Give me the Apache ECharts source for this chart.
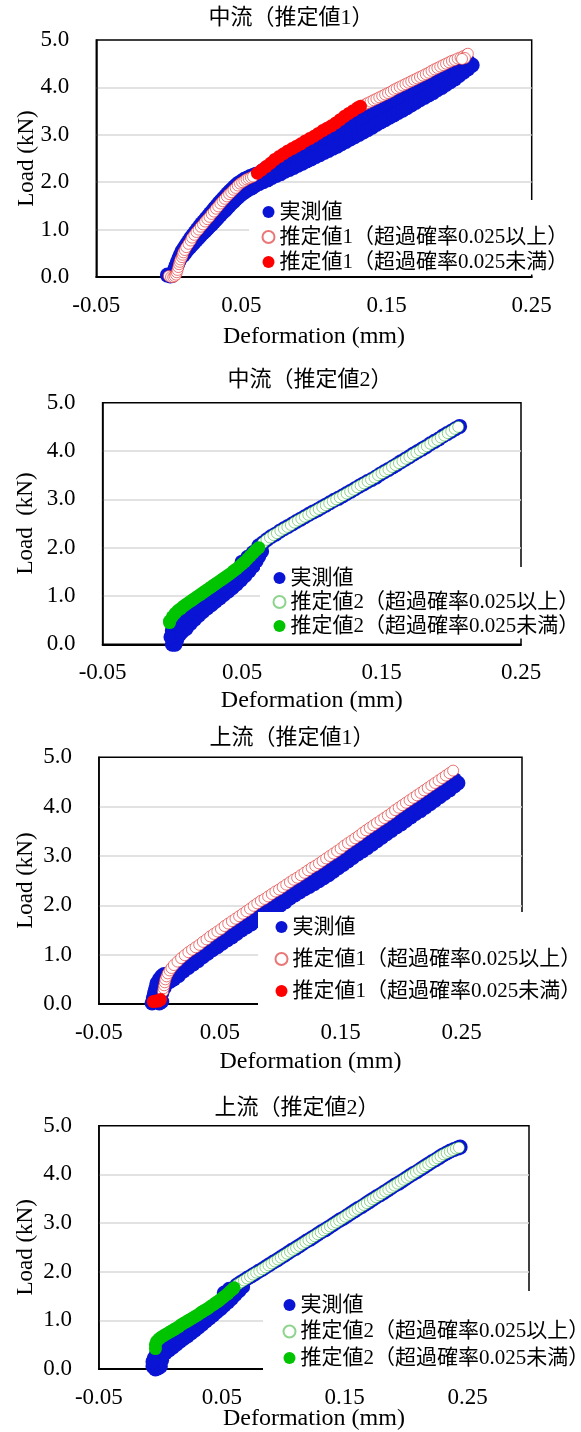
<!DOCTYPE html>
<html>
<head>
<meta charset="utf-8">
<script src="https://cdn.jsdelivr.net/npm/echarts@6/dist/echarts.min.js"></script>
<style>
html,body{margin:0;padding:0;background:#fff;}
#c{width:581px;height:1432px;}
</style>
</head>
<body>
<div id="c"></div>
<script>
// ---------- categories / labels ----------
const chartTitles = ['中流（推定値1）', '中流（推定値2）', '上流（推定値1）', '上流（推定値2）'];
const measuredName = '実測値';
const est1Names = ['推定値1（超過確率0.025以上）', '推定値1（超過確率0.025未満）'];
const est2Names = ['推定値2（超過確率0.025以上）', '推定値2（超過確率0.025未満）'];
const xAxisName = 'Deformation (mm)';
const yAxisNames = ['Load (kN)', 'Load  (kN)', 'Load (kN)', 'Load (kN)'];
const xTickLabels = ['-0.05', '0.05', '0.15', '0.25'];
const yTickLabels = ['0.0', '1.0', '2.0', '3.0', '4.0', '5.0'];
const xMin = -0.05;
const xMaxes = [0.25, 0.25, 0.30, 0.30];

// ---------- chart 1 : 中流（推定値1） ----------
const meas1 = [
[-0.001,0.04],[0.001,0.02],[0.003,0.08],[0.004,0.16],[0.005,0.24],[0.006,0.32],[0.007,0.40],[0.008,0.47],[0.009,0.54],[0.0105,0.61],[0.012,0.68],[0.0135,0.75],[0.015,0.82],[0.0165,0.88],[0.018,0.94],[0.0195,1.00],[0.021,1.06],[0.0225,1.12],[0.024,1.17],[0.0255,1.23],[0.027,1.28],[0.0285,1.34],[0.030,1.39],[0.0315,1.45],[0.033,1.50],[0.0345,1.56],[0.036,1.61],[0.0375,1.66],[0.039,1.71],[0.0405,1.76],[0.042,1.81],[0.0435,1.85],[0.045,1.90],[0.0465,1.94],[0.048,1.98],[0.050,2.02],[0.052,2.06],[0.054,2.09],[0.056,2.12],[0.058,2.14],[0.060,2.17],
[0.062,2.18],[0.065,2.25],[0.068,2.31],[0.071,2.38],[0.074,2.44],[0.077,2.50],[0.080,2.56],[0.083,2.61],[0.086,2.66],[0.089,2.71],[0.092,2.76],[0.095,2.81],[0.098,2.86],[0.101,2.92],[0.104,2.97],[0.107,3.03],[0.110,3.08],[0.113,3.14],[0.116,3.20],[0.119,3.27],[0.122,3.33],[0.125,3.39],[0.128,3.45],[0.131,3.50],[0.134,3.55],[0.137,3.59],[0.140,3.63],[0.143,3.68],[0.146,3.72],[0.149,3.77],[0.152,3.81],[0.155,3.86],[0.158,3.91],[0.161,3.95],[0.164,4.00],[0.167,4.04],[0.170,4.09],[0.173,4.13],[0.176,4.18],[0.179,4.22],[0.182,4.27],[0.185,4.31],[0.188,4.36],[0.191,4.40],[0.194,4.44],[0.197,4.47],[0.200,4.50],[0.203,4.53],[0.206,4.55],
[0.066,2.12],[0.070,2.20],[0.074,2.27],[0.078,2.34],[0.082,2.41],[0.086,2.48],[0.090,2.55],[0.094,2.61],[0.098,2.68],[0.102,2.74],[0.106,2.81],[0.110,2.88],[0.114,2.94],[0.118,3.01],[0.122,3.08],[0.126,3.15],[0.130,3.22],[0.134,3.29],[0.138,3.36],[0.142,3.43],[0.146,3.50],[0.150,3.56],[0.154,3.63],[0.158,3.70],[0.162,3.76],[0.166,3.82],[0.170,3.88],[0.174,3.94],[0.178,4.00],[0.182,4.06],[0.186,4.12],[0.190,4.19],[0.194,4.26],[0.198,4.33],[0.202,4.40],[0.206,4.46],
[0.002,0.03],[0.004,0.12],[0.005,0.20],[0.006,0.27],[0.007,0.34],[0.008,0.40],[0.010,0.46],[0.0115,0.52],[0.013,0.58],[0.0145,0.63],[0.016,0.68],[0.0175,0.73],[0.019,0.78],[0.0205,0.83],[0.022,0.88],[0.0235,0.93],[0.025,0.97],[0.0265,1.02],[0.028,1.07],[0.0295,1.11],[0.031,1.16],[0.0325,1.21],[0.034,1.26],[0.0355,1.31],[0.037,1.36],[0.0385,1.40],[0.040,1.45],[0.0415,1.50],[0.043,1.55],[0.0445,1.59],[0.046,1.64],[0.0475,1.68],[0.049,1.72],[0.051,1.77],[0.053,1.81],[0.055,1.85],[0.057,1.88],[0.059,1.92],[0.062,1.97],[0.065,2.01],[0.068,2.05],[0.071,2.10],[0.074,2.14],[0.077,2.18],[0.080,2.23],[0.083,2.27],[0.086,2.31],[0.089,2.36],[0.092,2.40],[0.095,2.45],[0.098,2.49],[0.101,2.54],[0.104,2.58],[0.107,2.63],[0.110,2.67],[0.113,2.72],[0.116,2.76],[0.119,2.81],[0.122,2.86],[0.125,2.91],[0.128,2.96],[0.131,3.01],[0.134,3.06],[0.137,3.11],[0.140,3.16],[0.143,3.22],[0.146,3.27],[0.149,3.32],[0.152,3.37],[0.155,3.42],[0.158,3.47],[0.161,3.52],[0.164,3.57],[0.167,3.63],[0.170,3.68],[0.173,3.74],[0.176,3.79],[0.179,3.84],[0.182,3.89],[0.185,3.95],[0.188,4.00],[0.191,4.06],[0.194,4.12],[0.197,4.18],[0.200,4.25],[0.203,4.32],[0.206,4.39],[0.209,4.47]
];
const estHi1 = [
[0.000,0.02],[0.0015,0.00],[0.003,0.00],[0.004,0.02],[0.005,0.05],[0.0055,0.10],[0.006,0.15],[0.0065,0.21],[0.007,0.27],[0.0075,0.32],[0.008,0.37],[0.009,0.42],[0.0095,0.47],[0.010,0.52],[0.011,0.57],[0.012,0.63],[0.0135,0.70],[0.015,0.77],[0.016,0.83],[0.0175,0.89],[0.019,0.95],[0.0205,1.00],[0.022,1.06],[0.0235,1.11],[0.025,1.17],[0.0265,1.22],[0.028,1.27],[0.0295,1.33],[0.031,1.38],[0.0325,1.44],[0.034,1.49],[0.0355,1.55],[0.037,1.60],[0.0385,1.65],[0.040,1.70],[0.0415,1.75],[0.043,1.79],[0.0445,1.84],[0.046,1.88],[0.0475,1.93],[0.049,1.97],[0.0505,2.00],[0.052,2.03],[0.0535,2.06],[0.055,2.08],[0.0565,2.10],[0.058,2.12],
[0.135,3.64],[0.137,3.67],[0.139,3.70],[0.141,3.73],[0.143,3.76],[0.145,3.79],[0.147,3.82],[0.149,3.85],[0.151,3.88],[0.153,3.91],[0.155,3.95],[0.157,3.98],[0.159,4.01],[0.161,4.04],[0.163,4.07],[0.165,4.10],[0.167,4.13],[0.169,4.16],[0.171,4.19],[0.173,4.22],[0.175,4.25],[0.177,4.28],[0.179,4.31],[0.181,4.35],[0.183,4.38],[0.185,4.41],[0.187,4.44],[0.189,4.47],[0.191,4.50],[0.193,4.53],[0.195,4.56],[0.197,4.58],[0.199,4.61],[0.201,4.63],[0.203,4.66],[0.205,4.69],[0.206,4.71],[0.204,4.62],[0.202,4.60]
];
const estLo1 = [
[0.061,2.19],[0.064,2.26],[0.067,2.33],[0.070,2.40],[0.073,2.48],[0.076,2.54],[0.079,2.60],[0.082,2.66],[0.085,2.71],[0.088,2.76],[0.091,2.81],[0.094,2.87],[0.097,2.92],[0.100,2.97],[0.103,3.03],[0.106,3.09],[0.109,3.14],[0.112,3.19],[0.115,3.25],[0.118,3.32],[0.121,3.39],[0.124,3.45],[0.127,3.51],[0.130,3.57],[0.132,3.60]
];

// ---------- chart 2 : 中流（推定値2） ----------
const meas2 = [
[0.000,0.00],[0.002,0.00],[0.001,0.10],[0.002,0.20],[0.000,0.28],[0.003,0.08],[0.004,0.16],[-0.001,0.15],
[0.005,0.20],[0.007,0.26],[0.010,0.33],[0.013,0.43],[0.016,0.52],[0.019,0.60],[0.022,0.68],[0.025,0.75],[0.028,0.82],[0.031,0.89],[0.034,0.96],[0.037,1.03],[0.040,1.10],[0.043,1.17],[0.046,1.25],[0.049,1.33],[0.052,1.42],[0.055,1.52],[0.058,1.62],[0.060,1.72],[0.062,1.82],[0.064,1.92],
[0.004,0.40],[0.007,0.50],[0.010,0.60],[0.013,0.68],[0.016,0.75],[0.019,0.82],[0.022,0.88],[0.025,0.95],[0.028,1.02],[0.031,1.08],[0.034,1.15],[0.037,1.21],[0.040,1.28],[0.043,1.35],[0.046,1.42],[0.049,1.50],[0.052,1.58],[0.055,1.67],[0.058,1.76],[0.061,1.86],
[0.050,1.70],[0.054,1.80],[0.058,1.90],
[0.062,2.04],[0.065,2.10],[0.068,2.17],[0.071,2.23],[0.074,2.28],[0.077,2.34],[0.080,2.39],[0.083,2.44],[0.086,2.49],[0.089,2.54],[0.092,2.59],[0.095,2.64],[0.098,2.69],[0.101,2.74],[0.104,2.78],[0.107,2.83],[0.110,2.88],[0.113,2.93],[0.116,2.98],[0.119,3.02],[0.122,3.07],[0.125,3.12],[0.128,3.17],[0.131,3.22],[0.134,3.27],[0.137,3.32],[0.140,3.37],[0.143,3.41],[0.146,3.46],[0.149,3.52],[0.152,3.57],[0.155,3.62],[0.158,3.67],[0.161,3.72],[0.164,3.78],[0.167,3.83],[0.170,3.88],[0.173,3.94],[0.176,3.99],[0.179,4.04],[0.182,4.09],[0.185,4.15],[0.188,4.20],[0.191,4.25],[0.194,4.31],[0.197,4.36],[0.200,4.41],[0.203,4.46],[0.206,4.51]
];
const estHi2 = [
[0.0650,2.10],[0.0675,2.16],[0.0700,2.21],[0.0725,2.26],[0.0750,2.30],[0.0775,2.35],[0.0800,2.39],[0.0825,2.43],[0.0850,2.47],[0.0875,2.52],[0.0900,2.56],[0.0925,2.60],[0.0950,2.64],[0.0975,2.68],[0.1000,2.72],[0.1025,2.76],[0.1050,2.80],[0.1075,2.84],[0.1100,2.88],[0.1125,2.92],[0.1150,2.96],[0.1175,3.00],[0.1200,3.04],[0.1225,3.08],[0.1250,3.12],[0.1275,3.16],[0.1300,3.20],[0.1325,3.25],[0.1350,3.29],[0.1375,3.33],[0.1400,3.37],[0.1425,3.41],[0.1450,3.45],[0.1475,3.50],[0.1500,3.54],[0.1525,3.58],[0.1550,3.62],[0.1575,3.67],[0.1600,3.71],[0.1625,3.75],[0.1650,3.79],[0.1675,3.84],[0.1700,3.88],[0.1725,3.93],[0.1750,3.97],[0.1775,4.01],[0.1800,4.06],[0.1825,4.10],[0.1850,4.15],[0.1875,4.19],[0.1900,4.23],[0.1925,4.28],[0.1950,4.32],[0.1975,4.37],[0.2000,4.41],[0.2025,4.46],[0.2050,4.50]
];
const estLo2 = [
[-0.002,0.45],[-0.002,0.48],[0.000,0.57],[0.002,0.64],[0.004,0.70],[0.006,0.74],[0.008,0.79],[0.010,0.83],[0.012,0.87],[0.014,0.91],[0.016,0.95],[0.018,0.99],[0.020,1.03],[0.022,1.07],[0.024,1.11],[0.026,1.15],[0.028,1.19],[0.030,1.23],[0.032,1.27],[0.034,1.31],[0.036,1.35],[0.038,1.39],[0.040,1.43],[0.042,1.47],[0.044,1.52],[0.046,1.56],[0.048,1.61],[0.050,1.66],[0.052,1.71],[0.054,1.77],[0.056,1.83],[0.058,1.89],[0.060,1.95],[0.062,2.00]
];

// ---------- chart 3 : 上流（推定値1） ----------
const meas3 = [
[-0.006,0.02],[-0.005,0.12],[-0.004,0.22],[-0.003,0.32],[-0.002,0.42],[0.000,0.50],[0.002,0.56],[0.004,0.60],[-0.003,0.05],[0.000,0.02],[0.002,0.05],
[0.008,0.55],[0.012,0.67],[0.016,0.76],[0.020,0.85],[0.024,0.93],[0.028,1.00],[0.032,1.07],[0.036,1.14],[0.040,1.21],[0.044,1.28],[0.048,1.35],[0.052,1.42],[0.056,1.49],[0.060,1.56],[0.064,1.63],[0.068,1.70],[0.072,1.76],[0.076,1.83],[0.080,1.90],[0.084,1.97],[0.088,2.03],[0.092,2.10],[0.096,2.16],[0.100,2.22],[0.104,2.28],[0.108,2.35],[0.112,2.41],[0.116,2.48],[0.120,2.54],[0.124,2.61],[0.128,2.67],[0.132,2.73],[0.136,2.80],[0.140,2.86],[0.144,2.93],[0.148,3.00],[0.152,3.07],[0.156,3.14],[0.160,3.21],[0.164,3.27],[0.168,3.35],[0.172,3.41],[0.176,3.48],[0.180,3.55],[0.184,3.62],[0.188,3.69],[0.192,3.75],[0.196,3.83],[0.200,3.89],[0.204,3.96],[0.208,4.03],[0.212,4.09],[0.216,4.16],[0.220,4.23],[0.224,4.29],[0.228,4.36],[0.232,4.43],[0.236,4.49],[0.240,4.53],[0.244,4.55],
[0.000,0.10],[0.002,0.22],[0.004,0.33],[0.006,0.42],[0.009,0.46],[0.012,0.51],[0.016,0.58],[0.020,0.67],[0.024,0.74],[0.028,0.81],[0.032,0.88],[0.036,0.96],[0.040,1.03],[0.044,1.10],[0.048,1.16],[0.052,1.23],[0.056,1.30],[0.060,1.36],[0.064,1.43],[0.068,1.50],[0.072,1.56],[0.076,1.62],[0.080,1.69],[0.084,1.75],[0.088,1.81],[0.092,1.87],[0.096,1.93],[0.100,2.00],[0.104,2.07],[0.108,2.15],[0.112,2.21],[0.116,2.27],[0.120,2.33],[0.124,2.38],[0.128,2.44],[0.132,2.50],[0.136,2.56],[0.140,2.62],[0.144,2.69],[0.148,2.76],[0.152,2.83],[0.156,2.90],[0.160,2.97],[0.164,3.04],[0.168,3.10],[0.172,3.17],[0.176,3.24],[0.180,3.31],[0.184,3.38],[0.188,3.45],[0.192,3.52],[0.196,3.59],[0.200,3.65],[0.204,3.72],[0.208,3.79],[0.212,3.86],[0.216,3.92],[0.220,3.99],[0.224,4.06],[0.228,4.13],[0.232,4.20],[0.236,4.27],[0.240,4.34],[0.244,4.42],[0.247,4.48]
];
const estHi3 = [
[0.003,0.25],[0.0035,0.32],[0.004,0.38],[0.0045,0.44],[0.005,0.50],[0.006,0.56],[0.007,0.62],[0.0085,0.68],[0.010,0.73],
[0.012,0.79],[0.015,0.86],[0.018,0.93],[0.021,0.99],[0.024,1.05],[0.027,1.10],[0.030,1.15],[0.033,1.20],[0.036,1.26],[0.039,1.31],[0.042,1.37],[0.045,1.42],[0.048,1.47],[0.051,1.52],[0.054,1.58],[0.057,1.63],[0.060,1.68],[0.063,1.73],[0.066,1.78],[0.069,1.83],[0.072,1.88],[0.075,1.93],[0.078,1.99],[0.081,2.04],[0.084,2.09],[0.087,2.13],[0.090,2.18],[0.093,2.23],[0.096,2.28],[0.099,2.32],[0.102,2.37],[0.105,2.42],[0.108,2.47],[0.111,2.52],[0.114,2.56],[0.117,2.61],[0.120,2.66],[0.123,2.71],[0.126,2.76],[0.129,2.80],[0.132,2.85],[0.135,2.90],[0.138,2.95],[0.141,3.00],[0.144,3.05],[0.147,3.10],[0.150,3.15],[0.153,3.21],[0.156,3.26],[0.159,3.31],[0.162,3.36],[0.165,3.41],[0.168,3.47],[0.171,3.52],[0.174,3.57],[0.177,3.62],[0.180,3.67],[0.183,3.72],[0.186,3.77],[0.189,3.82],[0.192,3.87],[0.195,3.93],[0.198,3.98],[0.201,4.03],[0.204,4.08],[0.207,4.13],[0.210,4.18],[0.213,4.23],[0.216,4.28],[0.219,4.33],[0.222,4.38],[0.225,4.43],[0.228,4.48],[0.231,4.53],[0.234,4.58],[0.237,4.63],[0.240,4.68],[0.243,4.73]
];
const estLo3 = [
[-0.005,0.05],[-0.003,0.06],[-0.001,0.06],[0.001,0.09]
];

// ---------- chart 4 : 上流（推定値2） ----------
const meas4 = [
[-0.006,0.05],[-0.004,0.00],[-0.002,0.02],[-0.002,0.12],[0.000,0.05],[0.001,0.18],[-0.005,0.22],[-0.003,0.32],[0.002,0.30],[-0.006,0.15],[0.000,0.38],
[0.004,0.33],[0.007,0.39],[0.010,0.45],[0.013,0.51],[0.016,0.57],[0.019,0.63],[0.022,0.68],[0.025,0.74],[0.028,0.80],[0.031,0.86],[0.034,0.92],[0.037,0.99],[0.040,1.05],[0.043,1.11],[0.046,1.18],[0.049,1.24],[0.052,1.31],[0.055,1.38],[0.058,1.45],[0.061,1.53],[0.064,1.61],[0.067,1.69],
[0.004,0.52],[0.008,0.58],[0.012,0.66],[0.016,0.73],[0.020,0.80],[0.024,0.87],[0.028,0.94],[0.032,1.00],[0.036,1.08],[0.040,1.15],[0.044,1.23],[0.048,1.31],[0.052,1.40],[0.056,1.49],[0.060,1.58],
[0.052,1.56],[0.056,1.64],
[0.062,1.72],[0.065,1.77],[0.068,1.82],[0.071,1.87],[0.074,1.91],[0.077,1.96],[0.080,2.01],[0.083,2.05],[0.086,2.10],[0.089,2.15],[0.092,2.20],[0.095,2.24],[0.098,2.29],[0.101,2.34],[0.104,2.39],[0.107,2.44],[0.110,2.48],[0.113,2.53],[0.116,2.58],[0.119,2.63],[0.122,2.67],[0.125,2.72],[0.128,2.77],[0.131,2.82],[0.134,2.86],[0.137,2.91],[0.140,2.96],[0.143,3.01],[0.146,3.06],[0.149,3.10],[0.152,3.15],[0.155,3.20],[0.158,3.25],[0.161,3.30],[0.164,3.34],[0.167,3.39],[0.170,3.44],[0.173,3.49],[0.176,3.54],[0.179,3.58],[0.182,3.63],[0.185,3.68],[0.188,3.73],[0.191,3.78],[0.194,3.82],[0.197,3.87],[0.200,3.92],[0.203,3.97],[0.206,4.02],[0.209,4.06],[0.212,4.11],[0.215,4.16],[0.218,4.21],[0.221,4.26],[0.224,4.30],[0.227,4.35],[0.230,4.40],[0.233,4.44],[0.236,4.48],[0.239,4.51],[0.242,4.54],[0.244,4.56]
];
const estHi4 = [
[0.0630,1.74],[0.0655,1.78],[0.0680,1.82],[0.0705,1.86],[0.0730,1.90],[0.0755,1.94],[0.0780,1.98],[0.0805,2.01],[0.0830,2.05],[0.0855,2.09],[0.0880,2.13],[0.0905,2.17],[0.0930,2.21],[0.0955,2.25],[0.0980,2.29],[0.1005,2.33],[0.1030,2.37],[0.1055,2.41],[0.1080,2.45],[0.1105,2.49],[0.1130,2.53],[0.1155,2.57],[0.1180,2.61],[0.1205,2.65],[0.1230,2.69],[0.1255,2.73],[0.1280,2.77],[0.1305,2.81],[0.1330,2.85],[0.1355,2.89],[0.1380,2.93],[0.1405,2.97],[0.1430,3.01],[0.1455,3.05],[0.1480,3.09],[0.1505,3.13],[0.1530,3.17],[0.1555,3.21],[0.1580,3.25],[0.1605,3.29],[0.1630,3.33],[0.1655,3.37],[0.1680,3.41],[0.1705,3.45],[0.1730,3.49],[0.1755,3.53],[0.1780,3.57],[0.1805,3.61],[0.1830,3.65],[0.1855,3.69],[0.1880,3.73],[0.1905,3.77],[0.1930,3.81],[0.1955,3.85],[0.1980,3.89],[0.2005,3.93],[0.2030,3.97],[0.2055,4.01],[0.2080,4.05],[0.2105,4.09],[0.2130,4.13],[0.2155,4.17],[0.2180,4.21],[0.2205,4.25],[0.2230,4.29],[0.2255,4.33],[0.2280,4.37],[0.2305,4.41],[0.2330,4.44],[0.2355,4.47],[0.2380,4.50],[0.2405,4.53],[0.2430,4.55]
];
const estLo4 = [
[-0.004,0.42],[-0.004,0.50],[-0.003,0.57],[-0.001,0.62],[0.001,0.66],[0.003,0.69],[0.005,0.72],[0.007,0.75],[0.009,0.78],[0.011,0.81],[0.013,0.84],[0.015,0.87],[0.017,0.91],[0.019,0.94],[0.021,0.97],[0.023,1.00],[0.025,1.03],[0.027,1.06],[0.029,1.09],[0.031,1.12],[0.033,1.16],[0.035,1.19],[0.037,1.22],[0.039,1.25],[0.041,1.29],[0.043,1.32],[0.045,1.36],[0.047,1.39],[0.049,1.43],[0.051,1.47],[0.053,1.51],[0.055,1.55],[0.057,1.60],[0.059,1.64],[0.060,1.67]
];

// ---------- layout / style (not data) ----------
const FONT = '"Liberation Serif", "Times New Roman", "Noto Sans CJK JP", serif';
const BLUE = '#0a14d4', RED = '#ff0000', GREEN = '#00c400';
const PINK_EDGE = 'rgba(225,45,45,0.65)', GREEN_EDGE = 'rgba(0,160,0,0.45)';
const layout = [
  {grid:{left:96.3, top:40, width:435.4, height:237}, title:[291,7], xGap:48, yGap:58,
   legend:{left:249, top:200, padding:[1.5,8,2,12.5], itemGap:4}},
  {grid:{left:102.6, top:402.7, width:418.4, height:241.6}, title:[310,369], xGap:44, yGap:65,
   legend:{left:260, top:567, padding:[0.5,8,2,12.5], itemGap:3}},
  {grid:{left:98.9, top:757.3, width:423.1, height:246.7}, title:[292,727], xGap:46, yGap:61,
   legend:{left:258, top:912, padding:[4.5,8,8,16.5], itemGap:11}},
  {grid:{left:98.9, top:1125.7, width:430.1, height:248.6}, title:[297,1097], xGap:38, yGap:61,
   legend:{left:263, top:1291, padding:[3.5,8,2,19.5], itemGap:5.5}}
];

const charts = [
  {meas: meas1, hi: estHi1, lo: estLo1, names: est1Names, loColor: RED, hiEdge: PINK_EDGE},
  {meas: meas2, hi: estHi2, lo: estLo2, names: est2Names, loColor: GREEN, hiEdge: GREEN_EDGE},
  {meas: meas3, hi: estHi3, lo: estLo3, names: est1Names, loColor: RED, hiEdge: PINK_EDGE},
  {meas: meas4, hi: estHi4, lo: estLo4, names: est2Names, loColor: GREEN, hiEdge: GREEN_EDGE}
];

const option = {animation:false, backgroundColor:'#fff', title:[], grid:[], xAxis:[], yAxis:[], legend:[], series:[]};

charts.forEach((c, i) => {
  const L = layout[i];
  option.title.push({text: chartTitles[i], left: L.title[0], top: L.title[1], textAlign:'center', padding:0,
    textStyle:{fontFamily:FONT, fontSize:22, fontWeight:'normal', color:'#000'}});
  option.grid.push(Object.assign({show:true, borderColor:'#000', borderWidth:1.5, backgroundColor:'transparent'}, L.grid));
  option.xAxis.push({type:'value', gridIndex:i, min:xMin, max:xMaxes[i], interval:0.05,
    name:xAxisName, nameLocation:'middle', nameGap:L.xGap, nameMoveOverlap:false,
    nameTextStyle:{fontFamily:FONT, fontSize:24, color:'#000'},
    axisLine:{show:true, onZero:false, lineStyle:{color:'#000', width:2}},
    axisTick:{show:false}, splitLine:{show:false},
    axisLabel:{margin:17, fontFamily:FONT, fontSize:23, color:'#000',
      formatter: v => { const s = v.toFixed(2); return xTickLabels.includes(s) ? s : ''; }}});
  option.yAxis.push({type:'value', gridIndex:i, min:0, max:5, interval:1,
    name:yAxisNames[i], nameLocation:'middle', nameGap:L.yGap, nameMoveOverlap:false,
    nameTextStyle:{fontFamily:FONT, fontSize:23, color:'#000'},
    axisLine:{show:true, onZero:false, lineStyle:{color:'#000', width:1.5}},
    axisTick:{show:false},
    splitLine:{show:true, showMinLine:false, showMaxLine:false, lineStyle:{color:'#d9d9d9', width:1.5}},
    axisLabel:{margin:27, fontFamily:FONT, fontSize:23, color:'#000',
      formatter: v => { const s = v.toFixed(1); return yTickLabels.includes(s) ? s : ''; }}});
  option.legend.push(Object.assign({orient:'vertical', backgroundColor:'#fff', icon:'circle',
    itemWidth:12, itemHeight:12, selectedMode:false,
    textStyle:{fontFamily:FONT, fontSize:21, lineHeight:21, color:'#000'},
    data:[measuredName, c.names[0], c.names[1]]}, L.legend));
  option.series.push({type:'scatter', name:measuredName, xAxisIndex:i, yAxisIndex:i, data:c.meas,
    symbol:'circle', symbolSize:15, clip:false, itemStyle:{color:BLUE, opacity:1}, emphasis:{disabled:true}});
  option.series.push({type:'scatter', name:c.names[0], xAxisIndex:i, yAxisIndex:i, data:c.hi,
    symbol:'circle', symbolSize:11, clip:false, itemStyle:{color:'#fff', opacity:1, borderColor:c.hiEdge, borderWidth:1},
    emphasis:{disabled:true}});
  option.series.push({type:'scatter', name:c.names[1], xAxisIndex:i, yAxisIndex:i, data:c.lo,
    symbol:'circle', symbolSize:13, clip:false, itemStyle:{color:c.loColor, opacity:1}, emphasis:{disabled:true}});
});

const chart = echarts.init(document.getElementById('c'), null, {renderer:'canvas'});
chart.setOption(option);
</script>
</body>
</html>
